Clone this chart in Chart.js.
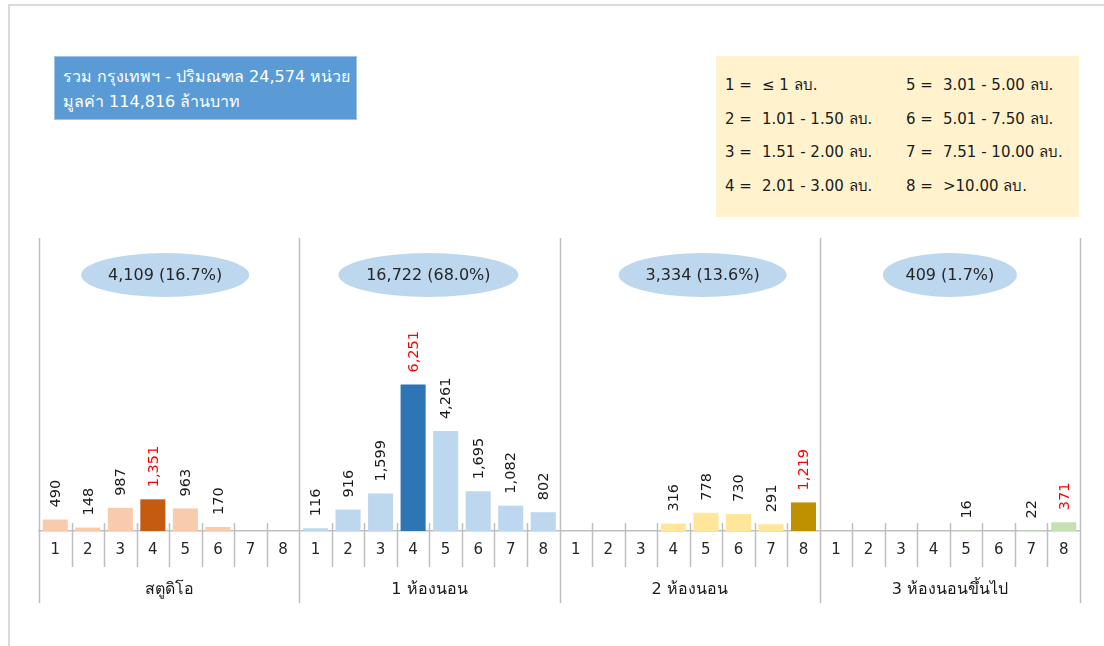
<!DOCTYPE html>
<html><head><meta charset="utf-8">
<script src="https://cdn.jsdelivr.net/npm/chart.js@4"></script>
<style>
html,body{margin:0;padding:0;background:#fff;overflow:hidden}
#wrap{position:relative;width:1104px;height:646px;font-family:Tahoma,'DejaVu Sans',sans-serif}
#frame{position:absolute;left:8px;top:4px;width:1100px;height:650px;border-top:2px solid #dadada;border-left:2px solid #dadada}
canvas{position:absolute;left:0;top:0}
#info{position:absolute;left:54px;top:56px;width:303px;height:64px;background:#5B9BD5;color:#fff;font-size:16px;box-sizing:border-box;padding:7px 8px;line-height:25px;border:1px solid #9dc3e6;white-space:nowrap}
#legend{position:absolute;left:716px;top:56px;width:363px;height:161px;background:#FFF2CC;color:#1a1a1a;font-size:15px;box-sizing:border-box;padding:13px 0 0 9px}
#legend .row{height:33.5px;line-height:33.5px;white-space:nowrap}
#legend .c{display:inline-block;width:181px}
#legend .k{display:inline-block;width:37px}
</style></head>
<body><div id="wrap">
<div id="frame"></div>
<canvas id="c" width="1104" height="646"></canvas>
<div id="info"></div>
<div id="legend"></div>
</div>
<script>
// ---- data ----
const priceCodes = ['1','2','3','4','5','6','7','8'];
const priceRanges = ['≤ 1 ลบ.','1.01 - 1.50 ลบ.','1.51 - 2.00 ลบ.','2.01 - 3.00 ลบ.','3.01 - 5.00 ลบ.','5.01 - 7.50 ลบ.','7.51 - 10.00 ลบ.','>10.00 ลบ.'];
const groupNames = ['สตูดิโอ','1 ห้องนอน','2 ห้องนอน','3 ห้องนอนขึ้นไป'];
const studio   = [490,148,987,1351,963,170,0,0];
const oneBed   = [116,916,1599,6251,4261,1695,1082,802];
const twoBed   = [0,0,0,316,778,730,291,1219];
const threeBed = [0,0,0,0,16,0,22,371];
const groupTotals = [4109,16722,3334,409];
const groupShares = ['16.7%','68.0%','13.6%','1.7%'];
const totalUnits = '24,574';
const totalValue = '114,816';

// ---- styles ----
const lightColors = ['#F8CBAD','#BDD7EE','#FFE699','#C5E0B4'];
const darkColors  = ['#C55A11','#2E75B6','#BF9000','#C5E0B4'];
const ellipseStyle = [{dx:-4,rx:84},{dx:-1,rx:90},{dx:13,rx:84},{dx:0,rx:67}];
const FONT = "Tahoma, 'DejaVu Sans', sans-serif";

document.getElementById('info').innerHTML =
  'รวม กรุงเทพฯ - ปริมณฑล ' + totalUnits + ' หน่วย<br>มูลค่า ' + totalValue + ' ล้านบาท';
let lg = '';
for (let r = 0; r < 4; r++) {
  lg += '<div class="row">';
  [r, r+4].forEach(i => { lg += '<span class="c"><span class="k">' + priceCodes[i] + ' =</span>' + priceRanges[i] + '</span>'; });
  lg += '</div>';
}
document.getElementById('legend').innerHTML = lg;

const groups = [studio, oneBed, twoBed, threeBed];
const values = groups.flat();
const labels = groups.flatMap(() => priceCodes);
const highlight = groups.map(g => g.indexOf(Math.max(...g)));
const isHi = values.map((v,i) => highlight[Math.floor(i/8)] === i%8);
const colors = values.map((v,i) => isHi[i] ? darkColors[Math.floor(i/8)] : lightColors[Math.floor(i/8)]);

const deco = {
  id:'deco',
  afterDatasetsDraw(chart){
    const ctx = chart.ctx, xs = chart.scales.x, ca = chart.chartArea;
    const half = (xs.getPixelForValue(1) - xs.getPixelForValue(0)) / 2;
    ctx.save();
    // separators
    ctx.strokeStyle = '#bfbfbf'; ctx.lineWidth = 1.5;
    for (let i = 0; i <= values.length; i++) {
      const x = Math.round(xs.getPixelForValue(i) - half) + 0.5;
      ctx.beginPath();
      if (i % 8 === 0) { ctx.moveTo(x, ca.top); ctx.lineTo(x, ca.bottom + 72); }
      else { ctx.moveTo(x, ca.bottom - 8); ctx.lineTo(x, ca.bottom + 36); }
      ctx.stroke();
    }
    // value labels
    const meta = chart.getDatasetMeta(0);
    ctx.font = '14.5px ' + FONT;
    ctx.textAlign = 'left'; ctx.textBaseline = 'middle';
    meta.data.forEach((bar, i) => {
      if (!values[i]) return;
      ctx.save();
      ctx.translate(bar.x + 1, bar.y - 12);
      ctx.rotate(-Math.PI/2);
      ctx.fillStyle = isHi[i] ? '#FF0000' : '#1a1a1a';
      ctx.fillText(values[i].toLocaleString('en-US'), 0, 0);
      ctx.restore();
    });
    // group labels & ellipses
    groups.forEach((g, gi) => {
      const cx = (xs.getPixelForValue(gi*8) + xs.getPixelForValue(gi*8+7)) / 2;
      ctx.fillStyle = '#1a1a1a';
      ctx.font = '16px ' + FONT; ctx.textAlign = 'center'; ctx.textBaseline = 'middle';
      ctx.fillText(groupNames[gi], cx, ca.bottom + 59);
      const es = ellipseStyle[gi];
      const ey = ca.top + 37;
      ctx.fillStyle = '#BDD7EE';
      ctx.beginPath(); ctx.ellipse(cx + es.dx, ey, es.rx, 22, 0, 0, Math.PI*2); ctx.fill();
      ctx.fillStyle = '#262626';
      ctx.fillText(groupTotals[gi].toLocaleString('en-US') + ' (' + groupShares[gi] + ')', cx + es.dx, ey + 1);
    });
    ctx.restore();
  }
};

new Chart(document.getElementById('c'), {
  type:'bar',
  data:{ labels, datasets:[{ data: values, backgroundColor: colors, borderWidth:0, barPercentage:0.77, categoryPercentage:1 }] },
  options:{
    responsive:false, animation:false,
    layout:{ padding:{ left:39, right:24, top:238, bottom:0 } },
    plugins:{ legend:{display:false}, tooltip:{enabled:false} },
    scales:{
      x:{
        grid:{ display:false, drawTicks:false },
        border:{ display:true, color:'#bfbfbf', width:1.5 },
        ticks:{ font:{ size:15, family:FONT }, color:'#262626', padding:10, autoSkip:false, maxRotation:0 },
        afterFit(s){ s.height = 115; }
      },
      y:{ display:false, min:0, max:12500 }
    }
  },
  plugins:[deco]
});
</script>
</body></html>
